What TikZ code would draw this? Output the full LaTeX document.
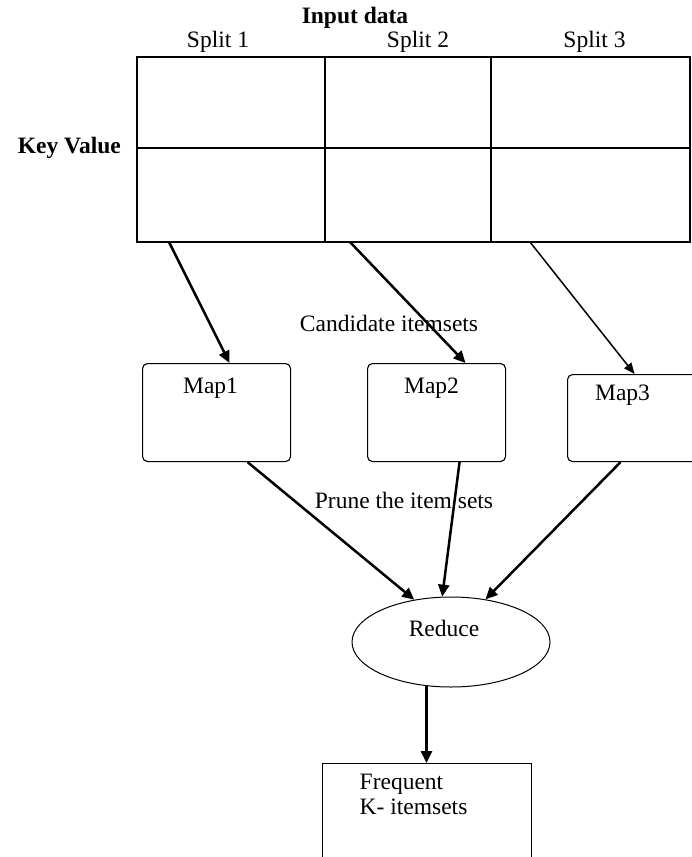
\documentclass[tikz,border=0pt]{standalone}
\usepackage{fontspec}
\setmainfont{Liberation Serif}
\usetikzlibrary{positioning, shapes.geometric, arrows.meta}

\begin{document}
\begin{tikzpicture}[x=1pt, y=1pt,
    every node/.style={font=\fontsize{23.5}{25}\selectfont, inner sep=3pt},
    cell/.style={draw, line width=1.2pt, inner sep=0pt, outer sep=0pt},
    mapbox/.style={draw, line width=1.1pt, rounded corners=5pt, anchor=north west},
    flow/.style={-{Triangle[length=12pt, width=11pt]}, line width=2.5pt},
    thinflow/.style={-{Triangle[length=11pt, width=9pt]}, line width=1.5pt}]
    \useasboundingbox (0,0) rectangle (692,-857);
    \clip (0,0) rectangle (692,-857);

    \node[cell, minimum width=188pt, minimum height=91pt, anchor=north west] (c11) at (137,-57) {};
    \node[cell, minimum width=166pt, minimum height=91pt, right=0pt of c11] (c12) {};
    \node[cell, minimum width=199pt, minimum height=91pt, right=0pt of c12] (c13) {};
    \node[cell, minimum width=188pt, minimum height=94pt, below=0pt of c11] (c21) {};
    \node[cell, minimum width=166pt, minimum height=94pt, below=0pt of c12] (c22) {};
    \node[cell, minimum width=199pt, minimum height=94pt, below=0pt of c13] (c23) {};

    \node[above=1pt of c11, xshift=-13pt] (split1) {Split 1};
    \node[above=1pt of c12, xshift=10pt] (split2) {Split 2};
    \node[above=1pt of c13, xshift=4pt] (split3) {Split 3};
    \node[font=\bfseries\fontsize{23.5}{25}\selectfont] (input) at (355,-18) {Input data};
    \node[font=\bfseries\fontsize{23.5}{25}\selectfont, left=13pt of c11.south west] (keyvalue) {Key Value};

    \node[mapbox, minimum width=148pt, minimum height=98pt, label={[anchor=north, xshift=-6pt, yshift=-12pt]north:Map1}] (map1) at (142,-363) {};
    \node[mapbox, minimum width=138pt, minimum height=98pt, label={[anchor=north, xshift=-5pt, yshift=-12pt]north:Map2}] (map2) at (367,-363) {};
    \node[mapbox, minimum width=150pt, minimum height=87pt, label={[anchor=north, xshift=-20pt, yshift=-8pt]north:Map3}] (map3) at (567,-374) {};

    \node (cand) at (389,-323) {Candidate itemsets};
    \node (prune) at (404,-500) {Prune the item sets};

    \node[draw, ellipse, line width=1pt, minimum width=198pt, minimum height=90pt, inner sep=0pt, label={[xshift=-7pt, yshift=14pt]center:Reduce}] (reduce) at (451,-642) {};

    \node[draw, line width=1pt, anchor=north, minimum width=209pt, minimum height=130pt, label={[anchor=north west, align=left, xshift=35pt, yshift=-8pt]north west:Frequent\\K- itemsets}] (freq) at (426.5,-763) {};

    \draw[flow] ([xshift=32pt]c21.south west) -- ([xshift=13pt]map1.north);
    \draw[flow] ([xshift=25pt]c22.south west) -- ([xshift=29pt]map2.north);
    \draw[thinflow] ([xshift=39pt]c23.south west) -- ([xshift=-8pt]map3.north);
    \draw[flow] ([xshift=31pt]map1.south) -- (reduce.131);
    \draw[flow] ([xshift=23pt]map2.south) -- (reduce.101);
    \draw[flow] ([xshift=-22pt]map3.south) -- (reduce.51);
    \draw[flow] (reduce.240 -| freq.north) -- (freq.north);
\end{tikzpicture}
\end{document}
